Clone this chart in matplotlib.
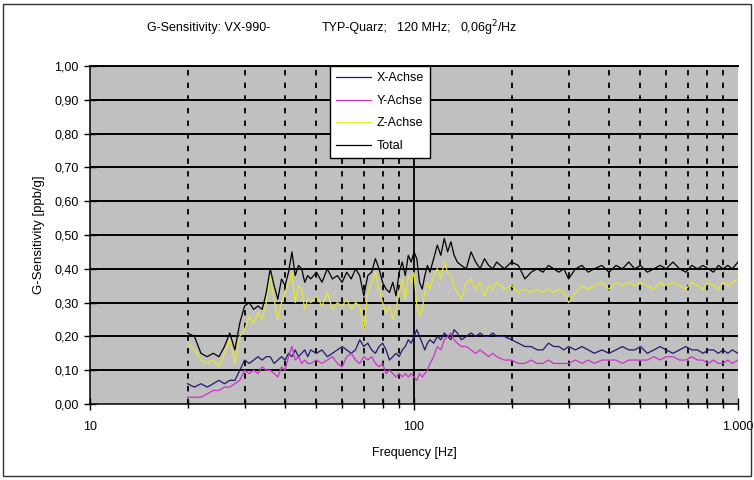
import matplotlib
matplotlib.use("Agg")
import matplotlib.pyplot as plt
from matplotlib.patches import Rectangle
from matplotlib.ticker import FixedLocator, FixedFormatter, NullFormatter

plt.rcParams['font.family'] = ['Liberation Sans', 'DejaVu Sans']

freq = [20,21,22,23,24,25,26,27,28,29,30,31,32,33,34,35,36,37,38,39,40,41,42,43,44,45,46,47,48,
        50,52,54,56,58,60,62,64,66,68,70,72,74,76,78,80,82,84,86,88,90,92,94,96,98,
        100,102,104,106,108,110,112,
        115,118,121,124,127,130,133,136,
        140,145,150,155,160,165,170,175,180,
        190,200,210,220,230,240,250,260,270,280,290,300,
        315,330,345,360,380,400,420,440,460,480,500,
        525,550,575,600,630,660,690,720,750,780,810,840,870,900,930,960,1000]

x_achse = [0.06,0.05,0.06,0.05,0.06,0.07,0.06,0.07,0.07,0.10,0.13,0.12,0.13,0.14,0.13,0.14,0.14,0.12,0.13,0.14,0.13,0.15,0.14,0.16,0.14,0.15,0.16,0.14,0.16,
           0.15,0.16,0.14,0.15,0.16,0.17,0.16,0.15,0.16,0.19,0.17,0.18,0.16,0.15,0.17,0.18,0.16,0.13,0.14,0.15,0.14,0.16,0.17,0.19,0.18,
           0.20,0.22,0.20,0.18,0.16,0.18,0.19,
           0.18,0.20,0.19,0.21,0.20,0.19,0.22,0.21,
           0.19,0.20,0.21,0.20,0.21,0.20,0.20,0.21,0.20,
           0.20,0.19,0.18,0.17,0.17,0.16,0.16,0.18,0.17,0.17,0.16,0.17,
           0.16,0.17,0.16,0.15,0.16,0.15,0.16,0.17,0.16,0.16,0.17,
           0.15,0.16,0.17,0.16,0.15,0.16,0.17,0.16,0.16,0.15,0.16,0.16,0.15,0.16,0.15,0.16,0.15]

y_achse = [0.02,0.02,0.02,0.03,0.04,0.04,0.05,0.05,0.06,0.07,0.10,0.09,0.10,0.09,0.11,0.10,0.10,0.09,0.08,0.11,0.10,0.14,0.17,0.13,0.14,0.12,0.13,0.12,0.12,
           0.13,0.12,0.13,0.14,0.12,0.11,0.14,0.15,0.13,0.12,0.14,0.13,0.14,0.12,0.11,0.12,0.09,0.10,0.09,0.08,0.09,0.08,0.09,0.08,0.09,
           0.08,0.07,0.09,0.08,0.09,0.10,0.12,
           0.14,0.17,0.16,0.19,0.20,0.21,0.19,0.18,
           0.17,0.17,0.16,0.15,0.16,0.15,0.14,0.15,0.14,
           0.13,0.13,0.12,0.12,0.13,0.12,0.12,0.13,0.12,0.12,0.12,0.12,
           0.13,0.12,0.13,0.12,0.13,0.13,0.13,0.12,0.13,0.13,0.13,
           0.13,0.14,0.13,0.14,0.14,0.13,0.13,0.14,0.13,0.13,0.12,0.13,0.12,0.12,0.13,0.12,0.13]

z_achse = [0.18,0.16,0.13,0.12,0.13,0.11,0.15,0.19,0.12,0.20,0.22,0.26,0.24,0.27,0.25,0.30,0.38,0.31,0.25,0.30,0.33,0.36,0.39,0.30,0.35,0.34,0.28,0.31,0.30,
           0.32,0.29,0.33,0.28,0.30,0.29,0.31,0.28,0.30,0.29,0.22,0.33,0.36,0.39,0.34,0.30,0.27,0.29,0.25,0.28,0.33,0.37,0.31,0.38,0.36,
           0.39,0.29,0.26,0.28,0.33,0.36,0.34,
           0.38,0.40,0.37,0.42,0.39,0.38,0.35,0.33,
           0.31,0.36,0.37,0.34,0.36,0.32,0.35,0.34,0.36,
           0.34,0.35,0.33,0.34,0.33,0.34,0.33,0.34,0.33,0.34,0.33,0.30,
           0.33,0.35,0.34,0.35,0.36,0.34,0.36,0.35,0.36,0.35,0.36,
           0.35,0.34,0.36,0.35,0.36,0.35,0.34,0.36,0.35,0.34,0.36,0.35,0.34,0.36,0.35,0.36,0.37]

total = [0.21,0.20,0.15,0.14,0.15,0.14,0.17,0.21,0.16,0.24,0.29,0.30,0.28,0.29,0.28,0.33,0.40,0.35,0.31,0.37,0.35,0.39,0.45,0.38,0.41,0.40,0.36,0.38,0.37,
         0.39,0.36,0.40,0.37,0.38,0.36,0.39,0.37,0.40,0.38,0.32,0.38,0.39,0.43,0.40,0.36,0.34,0.33,0.36,0.32,0.39,0.42,0.38,0.44,0.42,
         0.45,0.43,0.36,0.34,0.38,0.41,0.39,
         0.43,0.47,0.44,0.49,0.45,0.48,0.44,0.42,
         0.41,0.40,0.45,0.42,0.40,0.43,0.41,0.40,0.42,
         0.40,0.42,0.41,0.37,0.39,0.40,0.39,0.41,0.40,0.39,0.40,0.37,
         0.40,0.41,0.39,0.40,0.41,0.39,0.41,0.40,0.42,0.40,0.41,
         0.39,0.40,0.41,0.40,0.42,0.40,0.39,0.41,0.40,0.41,0.40,0.39,0.41,0.40,0.41,0.40,0.42]

series_names = ["X-Achse", "Y-Achse", "Z-Achse", "Total"]
series_colors = ["#1f1a6b", "#cc33cc", "#e6e62e", "#000000"]

y_ticks = [0.0,0.1,0.2,0.3,0.4,0.5,0.6,0.7,0.8,0.9,1.0]
y_tick_labels = ["0,00","0,10","0,20","0,30","0,40","0,50","0,60","0,70","0,80","0,90","1,00"]
x_major = [10, 100, 1000]
x_major_labels = ["10", "100", "1.000"]
x_minor = [20,30,40,50,60,70,80,90,200,300,400,500,600,700,800,900]

title_parts = ["G-Sensitivity: VX-990-", "TYP-Quarz;", "120 MHz;", "0,06g$^2$/Hz"]

fig = plt.figure(figsize=(7.54, 4.80), dpi=100)
fig.patch.set_facecolor("white")
fig.patches.append(Rectangle((3/754, 4/480), 748/754, 472/480, transform=fig.transFigure,
                             fill=False, edgecolor="#333333", linewidth=1.0))

ax = fig.add_axes([90/754, 1-404/480, 648/754, 338/480])
ax.set_facecolor("#c0c0c0")
ax.set_xscale("log")
ax.set_xlim(10, 1000)
ax.set_ylim(0, 1.0)

# grid
for v in y_ticks[1:]:
    ax.axhline(v, color="black", lw=1.4, zorder=1)
for f in x_minor:
    ax.axvline(f, color="black", lw=1.3, ls=(0, (3, 4)), zorder=1)
ax.axvline(100, color="black", lw=1.3, zorder=1)

for data, name, col in zip([x_achse, y_achse, z_achse, total], series_names, series_colors):
    ax.plot(freq, data, color=col, lw=0.9, label=name, zorder=3)

ax.yaxis.set_major_locator(FixedLocator(y_ticks))
ax.yaxis.set_major_formatter(FixedFormatter(y_tick_labels))
ax.xaxis.set_major_locator(FixedLocator(x_major))
ax.xaxis.set_major_formatter(FixedFormatter(x_major_labels))
ax.xaxis.set_minor_locator(FixedLocator(x_minor))
ax.xaxis.set_minor_formatter(NullFormatter())

ax.tick_params(axis="y", direction="inout", length=8, width=1.0, labelsize=9, pad=4)
ax.tick_params(axis="x", which="major", direction="inout", length=8, width=1.0, labelsize=9, pad=8)
ax.tick_params(axis="x", which="minor", direction="inout", length=6, width=1.0)
ax.spines["right"].set_visible(False)
ax.spines["top"].set_color("black")
ax.spines["top"].set_linewidth(1.4)
ax.spines["left"].set_linewidth(1.1)
ax.spines["bottom"].set_linewidth(1.1)

ax.set_xlabel("Frequency [Hz]", fontsize=9, labelpad=10)
ax.set_ylabel("G-Sensitivity [ppb/g]", fontsize=9.5, labelpad=7)

leg = ax.legend(loc="upper left", bbox_to_anchor=((330-90)/648, 1.0), fontsize=9,
                frameon=True, fancybox=False, edgecolor="black", framealpha=1.0,
                handlelength=2.8, borderpad=0.5, labelspacing=0.85, handletextpad=0.45,
                borderaxespad=0)
leg.get_frame().set_linewidth(1.0)
leg.set_zorder(5)

for txt, xpos in zip(title_parts, [147, 322, 397, 460]):
    fig.text(xpos/754, 1-28/480, txt, ha="left", va="center", fontsize=9)

fig.savefig("out.png", dpi=100)
